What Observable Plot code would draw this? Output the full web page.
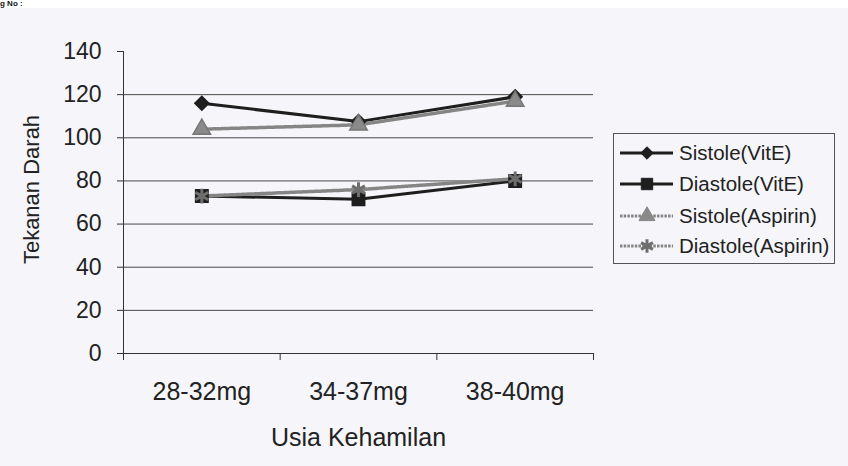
<!DOCTYPE html>
<html>
<head>
<meta charset="utf-8">
<script src="https://cdn.jsdelivr.net/npm/d3@7"></script>
<script src="https://cdn.jsdelivr.net/npm/@observablehq/plot@0.6"></script>
<style>
  html, body { margin: 0; padding: 0; background: #f6f6fa; }
  #wrap { position: relative; width: 848px; height: 466px; overflow: hidden; font-family: "Liberation Sans", Arial, sans-serif; color: #222; }
  #topstrip { position: absolute; left: 0; top: 0; width: 848px; height: 8px; background: #fff; }
  #topstrip span { position: absolute; left: 0; top: -1px; font-weight: bold; font-size: 8px; line-height: 9px; color: #111; }
  #legend { position: absolute; left: 613px; top: 133px; width: 222px; height: 131px; border: 1px solid #555; box-sizing: border-box; }
  .lg { position: absolute; left: 0; height: 30px; display: flex; align-items: center; }
  .lg span { font-size: 20.5px; margin-left: 3px; color: #222; }
</style>
</head>
<body>
<div id="wrap">
  <div id="chart"></div>
  <div id="topstrip"><span>g No :</span></div>
  <div id="legend"></div>
</div>
<script>
const categories = ["28-32mg", "34-37mg", "38-40mg"];
const sistoleVitE = [116, 107.5, 119];
const diastoleVitE = [73, 71.5, 80];
const sistoleAspirin = [104, 106, 117];
const diastoleAspirin = [73, 76, 81];
const yTicks = [0, 20, 40, 60, 80, 100, 120, 140];
const gridValues = [20, 40, 60, 80, 100, 120];
const seriesNames = ["Sistole(VitE)", "Diastole(VitE)", "Sistole(Aspirin)", "Diastole(Aspirin)"];
const xTitle = "Usia Kehamilan";
const yTitle = "Tekanan Darah";

const rows = (vals) => vals.map((v, i) => ({pos: i + 0.5, value: v, cat: categories[i]}));
const sVE = rows(sistoleVitE), dVE = rows(diastoleVitE), sAS = rows(sistoleAspirin), dAS = rows(diastoleAspirin);

const font = "Liberation Sans, Arial, sans-serif";
const dark = "#1e1e1e";
const grayLine = "#858585";
const dash = "2.5,1.2";

const chart = Plot.plot({
  width: 848,
  height: 466,
  marginLeft: 123,
  marginRight: 255,
  marginTop: 51,
  marginBottom: 113,
  style: {background: "transparent", fontFamily: font, color: "#222"},
  x: {domain: [0, 3], axis: null},
  y: {domain: [0, 140], axis: null},
  marks: [
    Plot.ruleY(gridValues, {stroke: "#4a4a4a", strokeWidth: 1}),
    Plot.ruleY([0], {stroke: "#333", strokeWidth: 1}),
    Plot.ruleX([0], {stroke: "#333", strokeWidth: 1}),
    Plot.axisY({ticks: yTicks, tickSize: 6, tickPadding: 16, fontSize: 23, stroke: "#333", fill: "#222", label: null}),
    Plot.axisX({ticks: [0, 1, 2, 3], tickSize: 7, tickFormat: () => "", stroke: "#333", label: null}),
    Plot.axisX({ticks: [0.5, 1.5, 2.5], tickSize: 0, tickPadding: 29, tickFormat: (d) => categories[Math.floor(d)], fontSize: 25, fill: "#222", label: null}),
    Plot.text([xTitle], {frameAnchor: "bottom", dy: 84, fontSize: 25, fill: "#222", lineAnchor: "middle", textAnchor: "middle"}),
    Plot.text([yTitle], {frameAnchor: "left", rotate: -90, dx: -92, dy: -13, fontSize: 22, fill: "#222", lineAnchor: "middle", textAnchor: "middle"}),
    // VitE series
    Plot.line(sVE, {x: "pos", y: "value", stroke: dark, strokeWidth: 3}),
    Plot.line(dVE, {x: "pos", y: "value", stroke: dark, strokeWidth: 3}),
    // Aspirin series
    Plot.line(sAS, {x: "pos", y: "value", stroke: grayLine, strokeWidth: 3.5, strokeDasharray: dash}),
    Plot.line(dAS, {x: "pos", y: "value", stroke: grayLine, strokeWidth: 3.5, strokeDasharray: dash}),
    Plot.dot(sVE, {x: "pos", y: "value", symbol: "diamond2", r: 6.3, fill: dark, stroke: dark}),
    Plot.dot(dVE, {x: "pos", y: "value", symbol: "square", r: 7, fill: dark, stroke: dark}),
    Plot.dot(sAS, {x: "pos", y: "value", symbol: "triangle", r: 6.5, fill: "#8a8a8a", stroke: "#777"}),
    Plot.dot(dAS, {x: "pos", y: "value", symbol: "asterisk", r: 7, stroke: "#6e6e6e", strokeWidth: 3})
  ]
});
document.getElementById("chart").appendChild(chart);

// Legend
const styles = [
  {stroke: dark, dash: null, symbol: d3.symbolDiamond2, size: 100, fill: dark, sw: 1},
  {stroke: dark, dash: null, symbol: d3.symbolSquare, size: 130, fill: dark, sw: 1},
  {stroke: grayLine, dash: dash, symbol: d3.symbolTriangle, size: 110, fill: "#8a8a8a", sw: 1},
  {stroke: grayLine, dash: dash, symbol: d3.symbolAsterisk, size: 130, fill: "none", sw: 3}
];
const legend = d3.select("#legend");
const rowTops = [4, 35, 67, 97];
seriesNames.forEach((name, i) => {
  const s = styles[i];
  const row = legend.append("div").attr("class", "lg").style("top", rowTops[i] + "px");
  const svg = row.append("svg").attr("width", 62).attr("height", 30);
  svg.append("line").attr("x1", 6).attr("x2", 59).attr("y1", 15).attr("y2", 15)
    .attr("stroke", s.stroke).attr("stroke-width", 3).attr("stroke-dasharray", s.dash);
  svg.append("path").attr("transform", "translate(33,15)")
    .attr("d", d3.symbol(s.symbol, s.size)())
    .attr("fill", s.fill).attr("stroke", i === 3 ? "#6e6e6e" : s.stroke).attr("stroke-width", s.sw);
  row.append("span").text(name);
});
</script>
</body>
</html>
